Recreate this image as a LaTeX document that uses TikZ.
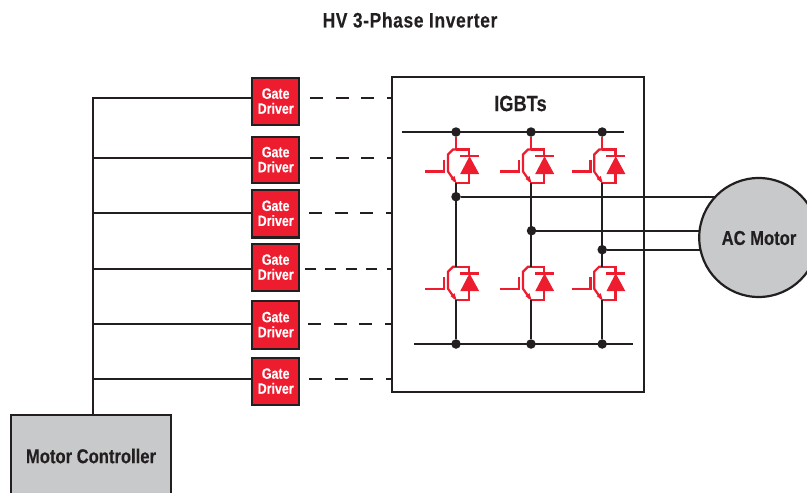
\documentclass[tikz,border=0pt]{standalone}
\usepackage{fontspec}
\setmainfont[BoldFeatures={FakeStretch=0.83,FakeBold=0.25}]{Liberation Sans}
\definecolor{igbtred}{HTML}{ED1C2E}
\definecolor{ink}{HTML}{231F20}
\definecolor{panel}{HTML}{C8C9CB}
\tikzset{
  wire/.style={draw=ink,line width=2.1pt},
  dashwire/.style={draw=ink,line width=2.2pt,dash pattern=on 13pt off 12.7pt},
  boxline/.style={draw=ink,line width=2.2pt},
  driver/.style={draw=ink,fill=igbtred,line width=2.4pt,minimum width=47pt,inner sep=0pt,
    align=center,text=white,font=\bfseries\fontsize{15}{15}\selectfont},
  dot/.style={circle,fill=ink,minimum size=9.5pt,inner sep=0pt},
  redline/.style={draw=igbtred,line width=2.2pt},
  labeltext/.style={text=ink,inner sep=0pt,font=\bfseries\fontsize{20}{24}\selectfont},
  igbt/.pic={
    \coordinate (-c) at (0,0);
    \coordinate (-e) at (0,33.5);
    \draw[redline] (-30.7,22) -- (-11.7,22) -- (-11.7,10.7);
    \draw[redline,line join=miter] (0,0) -- (-3,0) -- (-8,5) -- (-8,22) -- (-1,32);
    \fill[igbtred] (0.5,33.5) -- (-5.5,29.5) -- (-1.5,26.5) -- cycle;
    \draw[redline] (-1,33.3) -- (13.3,33.3) -- (13.3,24);
    \draw[redline] (0,0) -- (13.3,0) -- (13.3,6.7);
    \draw[redline] (4.2,6.7) -- (23.2,6.7);
    \fill[igbtred] (4.2,24.5) -- (23.2,24.5) -- (13.5,6.7) -- cycle;
  }
}
\begin{document}
\begin{tikzpicture}[x=1pt,y=-1pt]
\clip (0,0) rectangle (807,493);
% boxes
\node[boxline,minimum width=252pt,minimum height=315.5pt,inner sep=0pt] (box) at (518,234.5) {};
\node[labeltext,font=\bfseries\fontsize{22}{26}\selectfont] (igbts) at (520.5,103.5) {IGBTs};
\node[labeltext,font=\bfseries\fontsize{21}{24}\selectfont] (title) at (410,20) {\addfontfeature{LetterSpace=3}HV 3-Phase Inverter};
\node[boxline,fill=panel,minimum width=160.5pt,minimum height=120pt,inner sep=0pt] (ctrl) at (91,475) {};
\node[labeltext] (ctrllabel) at (91,456) {Motor Controller};
% drivers
\foreach \n/\cy/\h in {1/101.5/47,2/160/46.5,3/213.7/47.3,4/267.5/47,5/325/48,6/381.5/47}{
  \node[driver,minimum height=\h pt] (d\n) at (275.7,\cy) {\raisebox{1pt}{Gate}\\\raisebox{1pt}{Driver}};
}
% rails and dashes
\foreach \n/\ly/\sx in {1/98/310,2/158.3/310,3/212.7/309,4/269.2/305,5/324.3/308,6/379.3/309}{
  \coordinate (r\n) at (92.7,\ly);
  \coordinate (dl\n) at (252,\ly);
  \coordinate (a\n) at (\sx,\ly);
  \coordinate (b\n) at (392,\ly);
  \draw[wire] (r\n) -- (dl\n);
}
\draw[dashwire] (a1) -- (b1);
\draw[dashwire] (a2) -- (b2);
\draw[dashwire] (a3) -- (b3);
\draw[draw=ink,line width=2.2pt,dash pattern=on 10.7pt off 9.7pt] (a4) -- (b4);
\draw[dashwire] (a5) -- (b5);
\draw[dashwire] (a6) -- (b6);
\draw[wire] (92.7,97) -- (ctrl.north -| r1);
% IGBTs
\pic (t1) at (456,149.5) {igbt};
\pic (t2) at (531,149.5) {igbt};
\pic (t3) at (602.2,149.5) {igbt};
\pic (u1) at (456,266.7) {igbt};
\pic (u2) at (531,266.7) {igbt};
\pic (u3) at (602.2,266.7) {igbt};
% buses
\coordinate (tl) at (401.5,132);
\coordinate (tr) at (623.5,132);
\coordinate (bl) at (414,344);
\coordinate (br) at (633,344);
\draw[wire] (tl) -- (tr);
\draw[wire] (bl) -- (br);
\foreach \c/\x in {1/456,2/531,3/602.2}{
  \node[dot] (top\c) at (\x,132) {};
  \node[dot] (bot\c) at (\x,344) {};
  \draw[redline] (top\c) -- (t\c-c);
  \draw[wire] (t\c-e) -- (u\c-c);
  \draw[wire] (u\c-e) -- (bot\c);
}
% phases
\node[dot] (p1) at (456,196.7) {};
\node[dot] (p2) at (531.5,230.7) {};
\node[dot] (p3) at (602.2,249.7) {};
\coordinate (m1) at (725,196.7);
\coordinate (m2) at (705,230.7);
\coordinate (m3) at (705,249.7);
\draw[wire] (p1) -- (m1);
\draw[wire] (p2) -- (m2);
\draw[wire] (p3) -- (m3);
\node[circle,boxline,fill=panel,minimum size=119pt,inner sep=0pt] (motor) at (758.7,237.5) {};
\node[labeltext] (motorlabel) at (759,238) {AC Motor};
\end{tikzpicture}
\end{document}
